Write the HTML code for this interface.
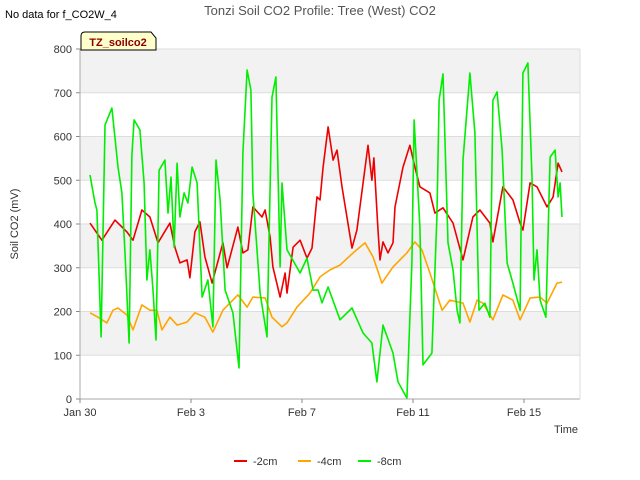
<!DOCTYPE html>
<html><head><meta charset="utf-8"><style>
body{margin:0;background:#fff;font-family:"Liberation Sans",sans-serif}
svg{display:block}
</style></head><body>
<svg id="chart" width="640" height="480" xmlns="http://www.w3.org/2000/svg" font-family="Liberation Sans, sans-serif">
<text x="5" y="18" font-size="11" fill="#000">No data for f_CO2W_4</text>
<text x="320" y="15" font-size="13" fill="#555" text-anchor="middle">Tonzi Soil CO2 Profile: Tree (West) CO2</text>
<g id="bands"></g>
<g id="grid"></g>
<g id="series"></g>
<g id="axes"></g>
<g>
<path d="M81,50 L81,36 Q81,32 85,32 L151,32 L156,38 L156,50 Z" fill="#ffffcc" stroke="#000" stroke-width="1"/>
<text x="118" y="46" font-size="11" font-weight="bold" fill="#8b0000" text-anchor="middle">TZ_soilco2</text>
</g>
<text transform="translate(18,224) rotate(-90)" font-size="11" fill="#333" text-anchor="middle">Soil CO2 (mV)</text>
<text x="578" y="433" font-size="11" fill="#333" text-anchor="end">Time</text>
<g id="legend"></g>
</svg>
<script>
const yTicks=[0,100,200,300,400,500,600,700,800];
const xTickDays=[0,4,8,12,16];
const xTickLabels=["Jan 30","Feb 3","Feb 7","Feb 11","Feb 15"];
const seriesNames=["-2cm","-4cm","-8cm"];
const seriesColors=["#ee0000","#ffa500","#00ee00"];
const d2=[0.36,0.79,1.26,1.69,1.91,2.23,2.52,2.81,3.24,3.42,3.60,3.86,3.96,4.14,4.32,4.50,4.76,5.15,5.30,5.69,5.87,6.05,6.23,6.56,6.67,6.85,6.95,7.21,7.39,7.46,7.68,7.93,8.18,8.36,8.54,8.65,8.76,8.94,9.12,9.26,9.44,9.80,9.98,10.38,10.52,10.59,10.74,10.81,10.92,11.10,11.28,11.35,11.64,11.89,12.07,12.25,12.61,12.79,13.08,13.44,13.80,14.16,14.41,14.77,14.88,15.24,15.60,15.86,15.96,16.22,16.47,16.83,17.05,17.23,17.37];
const v2=[402,363,409,382,363,432,416,357,402,347,311,318,277,382,405,325,265,357,300,393,334,341,439,416,432,370,302,233,288,242,347,363,322,345,462,455,530,622,546,569,485,345,386,580,500,551,386,318,359,334,357,439,530,580,530,485,471,425,437,402,318,416,432,402,359,485,455,402,386,494,485,439,462,539,519];
const d4=[0.36,0.65,0.97,1.19,1.37,1.69,1.91,2.23,2.52,2.77,2.95,3.24,3.50,3.86,4.14,4.50,4.79,5.15,5.69,6.02,6.23,6.67,6.92,7.28,7.46,7.82,8.29,8.65,9.01,9.37,9.84,10.27,10.56,10.88,11.28,11.78,12.07,12.32,12.61,13.05,13.33,13.80,14.05,14.31,14.52,14.88,15.24,15.60,15.86,16.22,16.58,16.83,17.19,17.37];
const v4=[197,187,174,203,208,192,158,215,203,203,158,187,169,176,197,187,153,203,238,210,233,231,187,165,174,210,242,279,295,306,334,357,325,265,302,334,359,341,288,203,226,219,176,226,219,181,238,226,181,231,233,219,265,267];
const d8=[0.36,0.54,0.61,0.76,0.90,1.15,1.37,1.51,1.62,1.77,1.87,1.95,2.16,2.31,2.41,2.52,2.63,2.74,2.85,3.06,3.17,3.28,3.39,3.50,3.60,3.75,3.89,4.04,4.22,4.40,4.61,4.79,4.90,5.05,5.23,5.51,5.73,5.87,6.02,6.16,6.23,6.49,6.74,6.92,7.06,7.14,7.21,7.28,7.46,7.93,8.18,8.40,8.58,8.72,8.94,9.37,9.80,10.20,10.52,10.70,10.92,11.28,11.46,11.78,11.96,12.04,12.25,12.36,12.68,12.86,12.94,13.08,13.26,13.44,13.59,13.69,13.80,14.05,14.23,14.38,14.59,14.77,14.88,15.03,15.21,15.39,15.60,15.86,15.96,16.14,16.29,16.36,16.47,16.58,16.79,16.94,17.12,17.23,17.30,17.37];
const v8=[512,448,432,142,626,665,530,471,334,128,558,638,615,494,272,341,249,135,523,546,425,507,347,539,416,471,448,530,494,233,272,165,546,455,249,197,71,562,752,706,471,242,142,690,736,507,302,494,341,288,322,249,249,220,256,181,208,151,128,39,169,105,39,2,311,638,393,78,105,416,683,743,357,295,203,174,546,745,608,203,219,187,683,702,569,311,265,203,745,768,507,272,341,226,187,553,569,462,494,416];

const X0=80,X1=580,Y0=399,Y1=49;
const xs=d=>X0+d*27.75;
const ys=v=>Y0-v*(Y0-Y1)/800;
const NS="http://www.w3.org/2000/svg";
function mk(tag,parent,attrs){const e=document.createElementNS(NS,tag);for(const k in attrs)e.setAttribute(k,attrs[k]);parent.appendChild(e);return e;}
const bands=document.getElementById('bands'),grid=document.getElementById('grid'),axes=document.getElementById('axes'),ser=document.getElementById('series'),leg=document.getElementById('legend');
mk('rect',bands,{x:X0,y:Y1,width:X1-X0,height:Y0-Y1,fill:'#fff'});
for(let i=0;i<yTicks.length-1;i++){
  if(i%2===1){const r=mk('rect',bands,{x:X0,y:ys(yTicks[i+1]),width:X1-X0,height:ys(yTicks[i])-ys(yTicks[i+1]),fill:'#f2f2f2'});
  
  }
}
yTicks.forEach(t=>{
  const l=mk('line',grid,{x1:X0,x2:X1,y1:ys(t),y2:ys(t),stroke:'#ddd','stroke-width':1});
  
  
  const tk=mk('line',axes,{x1:X0-4,x2:X0,y1:ys(t),y2:ys(t),stroke:'#888'});
  
  
  const tx=mk('text',axes,{x:X0-8,y:ys(t)+4,'font-size':11,fill:'#333','text-anchor':'end'});
  tx.textContent=t;
  
  
});
mk('line',axes,{x1:X0,x2:X0,y1:Y1,y2:Y0,stroke:'#aaa'});
mk('line',axes,{x1:X0,x2:X1,y1:Y0,y2:Y0,stroke:'#aaa'});
mk('line',axes,{x1:X1,x2:X1,y1:Y1,y2:Y0,stroke:'#ddd'});
xTickDays.forEach((d,i)=>{
  const tk=mk('line',axes,{x1:xs(d),x2:xs(d),y1:Y0,y2:Y0+4,stroke:'#888'});
  
  
  const tx=mk('text',axes,{x:xs(d),y:Y0+17,'font-size':11,fill:'#333','text-anchor':'middle'});
  tx.textContent=xTickLabels[i];
  
  
});
const data=[[d2,v2],[d4,v4],[d8,v8]];
data.forEach((s,i)=>{
  const pts=s[0].map((d,j)=>xs(d).toFixed(1)+','+ys(s[1][j]).toFixed(1)).join(' ');
  const p=mk('polyline',ser,{points:pts,fill:'none',stroke:seriesColors[i],'stroke-width':1.6,'stroke-linejoin':'round'});
  
  
});
const legX=[234,298,358];
seriesNames.forEach((n,i)=>{
  const g=mk('g',leg,{});
  
  
  mk('line',g,{x1:legX[i],x2:legX[i]+13,y1:461,y2:461,stroke:seriesColors[i],'stroke-width':2});
  const t=mk('text',g,{x:legX[i]+19,y:465,'font-size':11,fill:'#333'});
  t.textContent=n;
});
</script>
</body></html>
